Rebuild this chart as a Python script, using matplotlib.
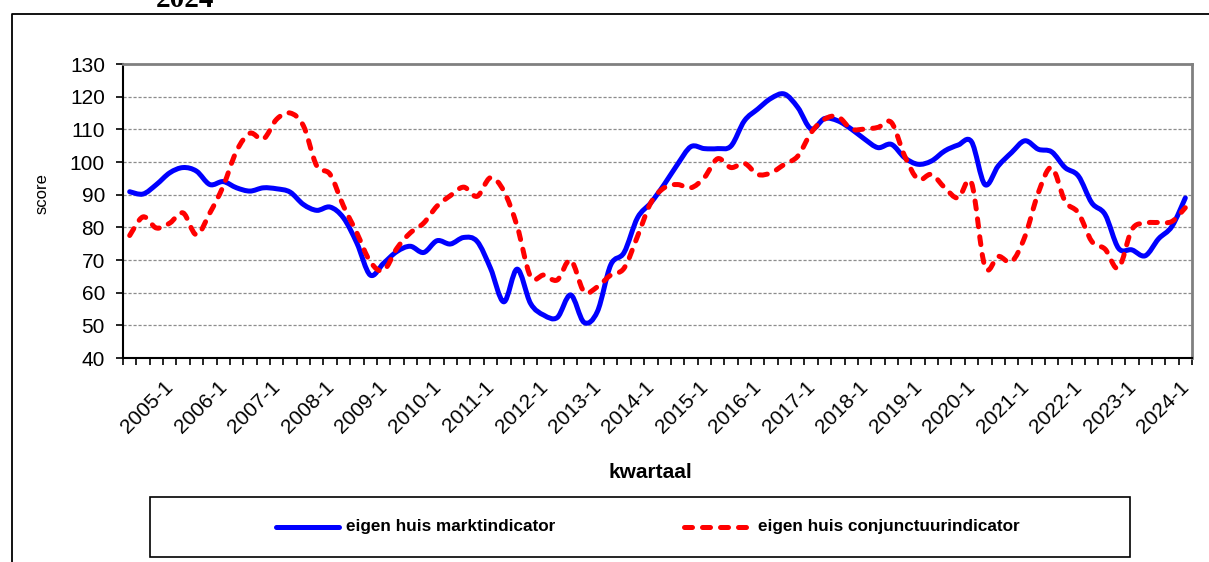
import matplotlib
matplotlib.use("Agg")
import matplotlib.pyplot as plt
from matplotlib.path import Path
from matplotlib.patches import PathPatch, Rectangle
from matplotlib.lines import Line2D
import numpy as np

# ---------------- data ----------------
start_year, start_q = 2004, 2
n_quarters = 80  # 2004-2 .. 2024-1

markt = [90.9, 90.2, 93.1, 96.7, 98.3, 97.2, 93.1, 94.0, 92.1, 91.1,
         92.1, 91.8, 90.8, 87.0, 85.2, 86.2, 82.9, 75.2, 65.4, 69.0,
         72.6, 74.2, 72.3, 75.9, 74.9, 76.9, 75.7, 67.5, 57.2, 67.2,
         56.7, 53.1, 52.4, 59.3, 50.9, 54.2, 68.5, 72.3, 82.9, 87.5,
         93.1, 99.3, 104.7, 104.1, 104.1, 104.9, 112.6, 116.2, 119.5, 120.8,
         116.7, 110.1, 113.3, 112.6, 110.1, 107.0, 104.4, 105.4, 101.3, 99.3,
         100.3, 103.4, 105.2, 106.2, 93.1, 98.8, 102.9, 106.5, 103.9, 103.1,
         98.3, 95.7, 87.5, 83.9, 73.6, 73.1, 71.3, 76.5, 80.3, 89.0]

conjunctuur = [77.5, 83.2, 79.8, 81.3, 84.4, 77.7, 84.4, 92.6, 103.4, 108.8,
               107.0, 113.1, 115.0, 111.1, 98.8, 96.2, 86.5, 78.3, 69.5, 66.8,
               73.6, 78.3, 81.3, 86.5, 89.7, 92.3, 89.5, 95.2, 91.1, 80.3,
               64.9, 65.4, 63.9, 70.0, 60.3, 61.8, 65.4, 67.5, 77.2, 87.5,
               92.1, 93.1, 92.1, 95.2, 101.0, 98.3, 99.6, 96.2, 96.7, 99.3,
               101.8, 109.0, 113.1, 113.9, 110.1, 110.1, 110.6, 112.1, 101.8, 94.7,
               96.2, 92.1, 89.0, 93.6, 68.0, 71.1, 69.5, 77.2, 90.6, 98.3,
               88.0, 84.4, 75.7, 73.3, 67.5, 79.3, 81.3, 81.5, 81.8, 86.0]

series_names = ["eigen huis marktindicator", "eigen huis conjunctuurindicator"]
y_ticks = [40, 50, 60, 70, 80, 90, 100, 110, 120, 130]

# quarter labels
quarters = []
y, q = start_year, start_q
for _ in range(n_quarters):
    quarters.append(f"{y}-{q}")
    q += 1
    if q > 4:
        q = 1
        y += 1

# ---------------- figure ----------------
W, H = 1209, 562
fig = plt.figure(figsize=(W / 100, H / 100), dpi=100)
plt.rcParams['font.family'] = ['Liberation Sans', 'DejaVu Sans']

L, R, T, B = 123, 1192, 64, 358
ax = fig.add_axes([L / W, 1 - B / H, (R - L) / W, (B - T) / H])

xc = np.arange(n_quarters) + 0.5


def smooth_path(xs, ys):
    pts = np.column_stack([xs, ys])
    n = len(pts)
    verts = [pts[0]]
    codes = [Path.MOVETO]
    for i in range(n - 1):
        p0 = pts[i - 1] if i > 0 else pts[i]
        p1 = pts[i]
        p2 = pts[i + 1]
        p3 = pts[i + 2] if i + 2 < n else pts[i + 1]
        c1 = p1 + (p2 - p0) / 6.0
        c2 = p2 - (p3 - p1) / 6.0
        verts += [c1, c2, p2]
        codes += [Path.CURVE4] * 3
    return Path(verts, codes)


lw = 3.6
dash = (0, (1.6, 2.0))
blue_patch = PathPatch(smooth_path(xc, markt), fill=False, edgecolor="#0000FF",
                       linewidth=lw, capstyle="round", joinstyle="round", zorder=3)
red_patch = PathPatch(smooth_path(xc, conjunctuur), fill=False, edgecolor="#FF0000",
                      linewidth=lw, linestyle=dash, capstyle="round",
                      joinstyle="round", zorder=4)
ax.add_patch(blue_patch)
ax.add_patch(red_patch)

ax.set_xlim(0, n_quarters)
ax.set_ylim(40, 130)

# y axis
ax.set_yticks(y_ticks)
ax.set_yticklabels([str(v) for v in y_ticks], fontsize=15)
ax.tick_params(axis="y", direction="out", length=5, width=1.2, pad=8, colors="black")
for v in y_ticks[1:-1]:
    ax.axhline(v, color="#8c8c8c", linewidth=0.9, linestyle=(0, (2.5, 1.5)), zorder=1)

# x axis: ticks at category boundaries, labels at "-1" quarters
ax.set_xticks(np.arange(n_quarters + 1))
ax.set_xticklabels([])
ax.tick_params(axis="x", which="major", direction="out", length=5, width=1.2, colors="black")
lab_idx = [i for i, s in enumerate(quarters) if s.endswith("-1")]
ax.set_xticks(xc[lab_idx] - 0.45, minor=True)
ax.set_xticklabels([quarters[i] for i in lab_idx], minor=True, fontsize=15,
                   rotation=45, ha="right", rotation_mode="anchor")
ax.tick_params(axis="x", which="minor", length=0, pad=14)

for side in ["top", "right"]:
    ax.spines[side].set_color("#808080")
    ax.spines[side].set_linewidth(2)
for side in ["left", "bottom"]:
    ax.spines[side].set_color("black")
    ax.spines[side].set_linewidth(1.5)

ax.set_ylabel("score", fontsize=12)
ax.yaxis.set_label_coords(-0.069, 0.56)

fig.text(650 / W, 1 - 472 / H, "kwartaal", fontsize=15, fontweight="bold",
         ha="center", va="center")

# legend box
fig.patches.append(Rectangle((150 / W, 1 - 557 / H), (1130 - 150) / W, (557 - 497) / H,
                             transform=fig.transFigure, fill=False, edgecolor="black",
                             linewidth=1.2))
ly = 1 - 527 / H
fig.lines.append(Line2D([276 / W, 339 / W], [ly, ly], transform=fig.transFigure,
                        color="#0000FF", linewidth=lw, solid_capstyle="round"))
fig.text(346 / W, ly, series_names[0], fontsize=12.3, fontweight="bold",
         ha="left", va="center")
fig.lines.append(Line2D([684 / W, 752 / W], [ly, ly], transform=fig.transFigure,
                        color="#FF0000", linewidth=lw, linestyle=dash,
                        dash_capstyle="round"))
fig.text(758 / W, ly, series_names[1], fontsize=12.3, fontweight="bold",
         ha="left", va="center")

# outer chart area border
fig.lines.append(Line2D([12 / W, 12 / W, 1.0], [0.0, 1 - 14 / H, 1 - 14 / H],
                        transform=fig.transFigure, color="black", linewidth=1.3))

# cut-off title at the very top
fig.text(185 / W, 1 - 7 / H, "2024", fontsize=21, fontweight="bold",
         family=["Liberation Serif", "DejaVu Serif"], ha="center", va="baseline")

fig.savefig("out.png", dpi=100)
